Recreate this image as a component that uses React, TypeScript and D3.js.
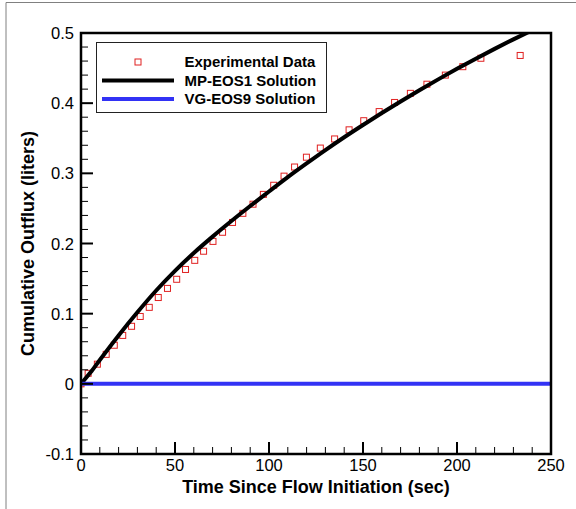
import React from "react";
import * as d3 from "d3";

// experimental outflux measurements (sec, liters)
const expTime = [0, 3.8, 8.7, 13.4, 17.7, 22.2, 26.9, 31.5, 36.3, 41.1, 46.0, 50.9, 55.6, 60.5, 65.2, 70.2, 75.3, 80.6, 86.1, 91.5, 97.0, 102.5, 108.0, 113.6, 119.9, 127.3, 134.9, 142.6, 150.4, 158.6, 166.8, 175.2, 184.0, 193.8, 203.1, 212.7, 233.6];
const expFlux = [0, 0.015, 0.028, 0.042, 0.055, 0.069, 0.082, 0.096, 0.109, 0.123, 0.136, 0.149, 0.163, 0.176, 0.189, 0.203, 0.216, 0.230, 0.243, 0.256, 0.270, 0.283, 0.296, 0.309, 0.323, 0.336, 0.349, 0.362, 0.375, 0.388, 0.401, 0.414, 0.427, 0.440, 0.452, 0.464, 0.468];

// MP-EOS1 simulated curve
const mpTime = [0, 5, 10, 20, 30, 40, 50, 60, 70, 80, 90, 100, 110, 120, 130, 140, 150, 160, 170, 180, 190, 200, 210, 220, 230, 240];
const mpFlux = [0, 0.016, 0.034, 0.069, 0.102, 0.133, 0.161, 0.1865, 0.2098, 0.232, 0.2534, 0.2741, 0.2946, 0.3141, 0.3331, 0.3514, 0.3689, 0.3859, 0.4024, 0.4184, 0.4339, 0.4489, 0.4634, 0.4774, 0.4909, 0.5039];

// VG-EOS9 simulated curve
const vgTime = [0, 250];
const vgFlux = [0, 0];

const xTicks = [0, 50, 100, 150, 200, 250];
const yTicks = [-0.1, 0, 0.1, 0.2, 0.3, 0.4, 0.5];

const legendItems = [
  { label: "Experimental Data", kind: "square" },
  { label: "MP-EOS1 Solution", kind: "black" },
  { label: "VG-EOS9 Solution", kind: "blue" },
];

const W = 576;
const H = 509;
const left = 81, right = 551, top = 33, bottom = 454;
const RED = "#e02020";
const BLUE = "#3232f5";
const FONT = "Liberation Sans, Arial, sans-serif";

export default function App() {
  const x = d3.scaleLinear().domain([0, 250]).range([left, right]);
  const y = d3.scaleLinear().domain([-0.1, 0.5]).range([bottom, top]);

  const line = d3
    .line<[number, number]>()
    .x((d) => x(d[0]))
    .y((d) => y(d[1]))
    .curve(d3.curveMonotoneX);

  const mpData: [number, number][] = mpTime.map((t, i) => [t, mpFlux[i]]);
  const vgData: [number, number][] = vgTime.map((t, i) => [t, vgFlux[i]]);

  const xMinor = d3.range(0, 251, 10).filter((v) => v % 50 !== 0);
  const yMinor = d3.range(-0.1, 0.5001, 0.02).filter((v) => Math.abs(Math.round(v * 10) - v * 10) > 0.01);

  const sq = 6;

  return (
    <svg width={W} height={H} style={{ position: "absolute", left: 0, top: 0, background: "#fff" }}>
      <defs>
        <clipPath id="plot">
          <rect x={left} y={top} width={right - left} height={bottom - top} />
        </clipPath>
      </defs>
      {/* outer frame */}
      <path d={`M6,${H} L6,2.5 L${W},2.5`} fill="none" stroke="#808080" strokeWidth={1} />

      <g clipPath="url(#plot)">
        {expTime.map((t, i) => (
          <rect key={i} x={x(t) - sq / 2} y={y(expFlux[i]) - sq / 2} width={sq} height={sq}
            fill="none" stroke={RED} strokeWidth={1} />
        ))}
        <path d={line(mpData) || ""} fill="none" stroke="#000" strokeWidth={4} />
        <path d={line(vgData) || ""} fill="none" stroke={BLUE} strokeWidth={4} />
      </g>

      {/* ticks */}
      {xMinor.map((v) => (
        <line key={"xm" + v} x1={x(v)} x2={x(v)} y1={bottom} y2={bottom - 7} stroke="#000" strokeWidth={1} />
      ))}
      {xTicks.map((v) => (
        <line key={"xM" + v} x1={x(v)} x2={x(v)} y1={bottom} y2={bottom - 12} stroke="#000" strokeWidth={2} />
      ))}
      {yMinor.map((v, i) => (
        <line key={"ym" + i} x1={left} x2={left + 7} y1={y(v)} y2={y(v)} stroke="#000" strokeWidth={1} />
      ))}
      {yTicks.map((v) => (
        <line key={"yM" + v} x1={left} x2={left + 12} y1={y(v)} y2={y(v)} stroke="#000" strokeWidth={2} />
      ))}

      <rect x={left} y={top} width={right - left} height={bottom - top} fill="none" stroke="#000" strokeWidth={2.5} />

      {/* tick labels */}
      {xTicks.map((v) => (
        <text key={"xl" + v} x={x(v)} y={471} textAnchor="middle" fontFamily={FONT} fontSize={16.5}>{v}</text>
      ))}
      {yTicks.map((v) => (
        <text key={"yl" + v} x={74} y={y(v) + 6} textAnchor="end" fontFamily={FONT} fontSize={16.5}>{String(+v.toFixed(1))}</text>
      ))}

      {/* axis titles */}
      <text x={(left + right) / 2} y={493} textAnchor="middle" fontFamily={FONT} fontSize={18} fontWeight="bold">
        Time Since Flow Initiation (sec)
      </text>
      <text transform={`translate(34,${(top + bottom) / 2}) rotate(-90)`} textAnchor="middle" fontFamily={FONT} fontSize={18} fontWeight="bold">
        Cumulative Outflux (liters)
      </text>

      {/* legend */}
      <rect x={96.5} y={42.5} width={230} height={70} fill="#fff" stroke="#222" strokeWidth={1} />
      {legendItems.map((item, i) => {
        const cy = 62 + i * 18.5;
        return (
          <g key={item.label}>
            {item.kind === "square" ? (
              <rect x={138 - sq / 2} y={cy - sq / 2} width={sq} height={sq} fill="none" stroke={RED} strokeWidth={1} />
            ) : (
              <line x1={102} x2={174} y1={cy} y2={cy} stroke={item.kind === "black" ? "#000" : BLUE} strokeWidth={4} />
            )}
            <text x={184.5} y={cy + 5} fontFamily={FONT} fontSize={15} fontWeight="bold">{item.label}</text>
          </g>
        );
      })}
    </svg>
  );
}
